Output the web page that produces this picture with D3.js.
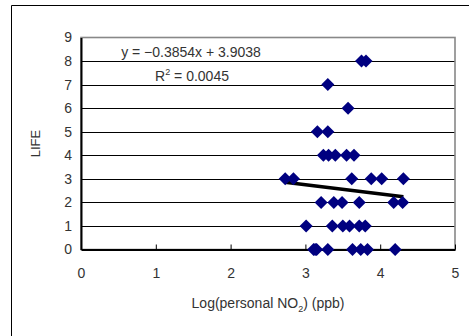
<!DOCTYPE html>
<html>
<head>
<meta charset="utf-8">
<script src="https://cdn.jsdelivr.net/npm/d3@7"></script>
<style>
  body { margin: 0; background: #fff; }
  svg text { font-family: "Liberation Sans", Arial, sans-serif; fill: #333; }
</style>
</head>
<body>
<svg class="chart" width="469" height="336"></svg>
<script>
(function() {
  'use strict';

// LIFE score levels, with the Log(NO2) values measured at each level
var life0 = [3.11, 3.13, 3.15, 3.30, 3.63, 3.74, 3.83, 4.20];
var life1 = [3.01, 3.36, 3.50, 3.59, 3.72, 3.80];
var life2 = [3.21, 3.38, 3.49, 3.72, 4.18, 4.30];
var life3 = [2.73, 2.84, 3.62, 3.88, 4.02, 4.31];
var life4 = [3.24, 3.31, 3.40, 3.55, 3.65];
var life5 = [3.16, 3.30];
var life6 = [3.57];
var life7 = [3.30];
var life8 = [3.75, 3.81];

var xTicks = [0, 1, 2, 3, 4, 5];
var yTicks = [0, 1, 2, 3, 4, 5, 6, 7, 8, 9];

var slope = -0.3854;
var intercept = 3.9038;
var eqText = 'y = \u22120.3854x + 3.9038';

var groups = [life0, life1, life2, life3, life4, life5, life6, life7, life8];
var data = [];
groups.forEach(function(g, i) {
  g.forEach(function(v) { data.push({ x: v, y: i }); });
});

var left = 81, right = 455, top = 37.5, bottom = 249.5;

var x = d3.scaleLinear().domain([0, 5]).range([left, right]);
var y = d3.scaleLinear().domain([0, 9]).range([bottom, top]);

var svg = d3.select('.chart');

// outer chart frame (cut off at right and bottom)
svg.append('path')
  .attr('d', 'M11.5,340V5.5H475')
  .attr('fill', 'none')
  .attr('stroke', '#000');

// gridlines
svg.append('g')
  .selectAll('line')
  .data(yTicks.slice(1, -1))
  .enter().append('line')
    .attr('x1', left).attr('x2', right)
    .attr('y1', function(d) { return Math.round(y(d)) + 0.5; })
    .attr('y2', function(d) { return Math.round(y(d)) + 0.5; })
    .attr('stroke', '#000');

// plot area border
svg.append('rect')
  .attr('x', left).attr('y', top)
  .attr('width', right - left).attr('height', bottom - top)
  .attr('fill', 'none')
  .attr('stroke', '#888')
  .attr('stroke-width', 1.6);

// axes
var xAxis = svg.append('g')
  .attr('transform', 'translate(0,' + bottom + ')')
  .call(d3.axisBottom(x).tickValues(xTicks).tickFormat(d3.format('d'))
    .tickSizeInner(-5).tickSizeOuter(0).tickPadding(19));
var yAxis = svg.append('g')
  .attr('transform', 'translate(' + left + ',0)')
  .call(d3.axisLeft(y).tickValues(yTicks).tickFormat(d3.format('d'))
    .tickSize(0).tickPadding(9));

[xAxis, yAxis].forEach(function(a) {
  a.select('.domain').attr('stroke', '#000').attr('stroke-width', 2);
  a.selectAll('text').attr('font-size', 14).attr('font-family', null).attr('fill', '#333');
  a.selectAll('line').attr('stroke', '#000');
});

// trend line
var xs = d3.extent(data, function(d) { return d.x; });
svg.append('line')
  .attr('x1', x(xs[0])).attr('y1', y(slope * xs[0] + intercept))
  .attr('x2', x(xs[1])).attr('y2', y(slope * xs[1] + intercept))
  .attr('stroke', '#000')
  .attr('stroke-width', 3.5);

// points
svg.append('g')
  .selectAll('path')
  .data(data)
  .enter().append('path')
    .attr('transform', function(d) { return 'translate(' + x(d.x) + ',' + y(d.y) + ')'; })
    .attr('d', 'M0,-6.5L6.5,0L0,6.5L-6.5,0Z')
    .attr('fill', '#000080');

// equation labels
svg.append('text')
  .attr('x', 191).attr('y', 57)
  .attr('text-anchor', 'middle')
  .attr('font-size', 14)
  .text(eqText);

var r2 = svg.append('text')
  .attr('x', 192).attr('y', 81)
  .attr('text-anchor', 'middle')
  .attr('font-size', 14);
r2.append('tspan').text('R');
r2.append('tspan').attr('dy', -6).attr('font-size', 9).text('2');
r2.append('tspan').attr('dy', 6).text(' = 0.0045');

// axis titles
var xt = svg.append('text')
  .attr('x', 268).attr('y', 308)
  .attr('text-anchor', 'middle')
  .attr('font-size', 14);
xt.append('tspan').text('Log(personal NO');
xt.append('tspan').attr('dy', 4).attr('font-size', 9).text('2');
xt.append('tspan').attr('dy', -4).text(') (ppb)');

svg.append('text')
  .attr('transform', 'translate(40,' + (top + bottom) / 2 + ') rotate(-90)')
  .attr('text-anchor', 'middle')
  .attr('font-size', 13)
  .text('LIFE');
}());
</script>
</body>
</html>
